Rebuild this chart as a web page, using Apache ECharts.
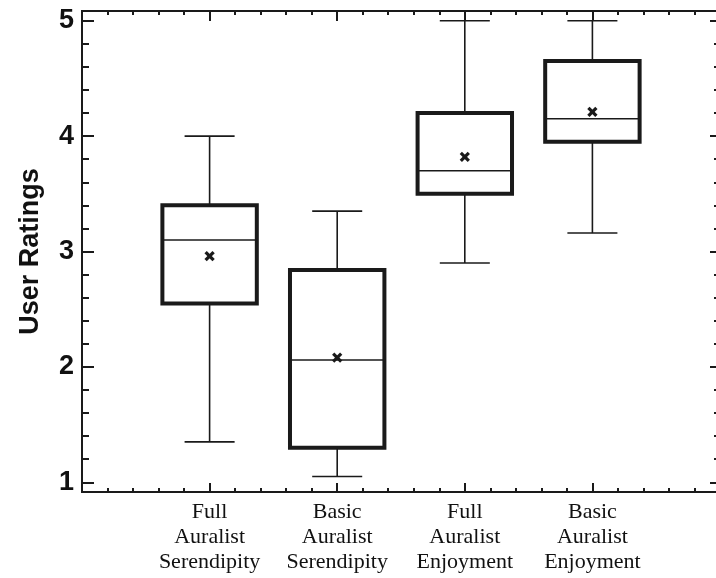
<!DOCTYPE html>
<html>
<head>
<meta charset="utf-8">
<script src="https://cdn.jsdelivr.net/npm/echarts@6/dist/echarts.min.js"></script>
<style>
html,body{margin:0;padding:0;background:#fff;}
#chart{width:716px;height:578px;}
</style>
</head>
<body>
<div id="chart"></div>
<script>
// ---- data ----
var categories = ['Full\nAuralist\nSerendipity', 'Basic\nAuralist\nSerendipity', 'Full\nAuralist\nEnjoyment', 'Basic\nAuralist\nEnjoyment'];
var positions = [1, 2, 3, 4];
var whiskerLow = [1.35, 1.05, 2.90, 3.16];
var q1 = [2.55, 1.30, 3.50, 3.95];
var median = [3.10, 2.06, 3.70, 4.15];
var q3 = [3.40, 2.84, 4.20, 4.65];
var whiskerHigh = [4.00, 3.35, 5.00, 5.00];
var means = [2.96, 2.08, 3.82, 4.21];
var yMajorTicks = [1, 2, 3, 4, 5];
var yMinorTicks = [1.2, 1.4, 1.6, 1.8, 2.2, 2.4, 2.6, 2.8, 3.2, 3.4, 3.6, 3.8, 4.2, 4.4, 4.6, 4.8];
var yMin = 0.916, yMax = 5.084;
var xMin = 0, xMax = 5;

var ink = '#1a1a1a';
var data = positions.map(function (p, i) {
  return [p, whiskerLow[i], q1[i], median[i], q3[i], whiskerHigh[i], means[i]];
});

function renderItem(params, api) {
  var x = api.value(0);
  var boxHalf = 0.37, capHalf = 0.196;
  var pLow = api.coord([x, api.value(1)]);
  var pQ1 = api.coord([x, api.value(2)]);
  var pMed = api.coord([x, api.value(3)]);
  var pQ3 = api.coord([x, api.value(4)]);
  var pHigh = api.coord([x, api.value(5)]);
  var pMean = api.coord([x, api.value(6)]);
  var bl = api.coord([x - boxHalf, api.value(2)])[0];
  var br = api.coord([x + boxHalf, api.value(2)])[0];
  var cl = api.coord([x - capHalf, api.value(2)])[0];
  var cr = api.coord([x + capHalf, api.value(2)])[0];
  var thin = {stroke: ink, lineWidth: 1.6, fill: null};
  var m = 4;
  return {
    type: 'group',
    children: [
      {type: 'line', shape: {x1: pHigh[0], y1: pHigh[1], x2: pQ3[0], y2: pQ3[1]}, style: thin},
      {type: 'line', shape: {x1: pLow[0], y1: pLow[1], x2: pQ1[0], y2: pQ1[1]}, style: thin},
      {type: 'line', shape: {x1: cl, y1: pHigh[1], x2: cr, y2: pHigh[1]}, style: thin},
      {type: 'line', shape: {x1: cl, y1: pLow[1], x2: cr, y2: pLow[1]}, style: thin},
      {type: 'rect', shape: {x: bl, y: pQ3[1], width: br - bl, height: pQ1[1] - pQ3[1]},
        style: {stroke: ink, lineWidth: 4, fill: '#fff'}},
      {type: 'line', shape: {x1: bl, y1: pMed[1], x2: br, y2: pMed[1]}, style: thin},
      {type: 'line', shape: {x1: pMean[0] - m, y1: pMean[1] - m, x2: pMean[0] + m, y2: pMean[1] + m},
        style: {stroke: ink, lineWidth: 3.2}},
      {type: 'line', shape: {x1: pMean[0] - m, y1: pMean[1] + m, x2: pMean[0] + m, y2: pMean[1] - m},
        style: {stroke: ink, lineWidth: 3.2}}
    ]
  };
}

var axisLine = {show: true, lineStyle: {color: ink, width: 2}};
function yAxisDef(position, ticks, len, showLabel, extra) {
  var a = {
    type: 'value', position: position, min: yMin, max: yMax,
    axisLine: axisLine,
    splitLine: {show: false},
    axisTick: {show: true, inside: true, length: len, customValues: ticks, lineStyle: {color: ink, width: 2}},
    axisLabel: showLabel ? {
      show: true, customValues: yMajorTicks, margin: 8,
      fontFamily: 'Liberation Sans', fontWeight: 'bold', fontSize: 27, color: '#111',
      formatter: function (v) { return String(Math.round(v)); }
    } : {show: false}
  };
  for (var k in extra) a[k] = extra[k];
  return a;
}

var chart = echarts.init(document.getElementById('chart'), null, {renderer: 'canvas'});
chart.setOption({
  animation: false,
  backgroundColor: '#fff',
  grid: {left: 82, top: 11, width: 638, height: 481, outerBoundsMode: 'none', containLabel: false},
  xAxis: [
    {
      type: 'value', position: 'bottom', min: xMin, max: xMax, interval: 1,
      axisLine: axisLine, splitLine: {show: false},
      axisTick: {show: true, inside: true, length: 9, lineStyle: {color: ink, width: 2}},
      minorTick: {show: true, splitNumber: 5, length: 4, lineStyle: {color: ink, width: 2}},
      axisLabel: {
        show: true, margin: 8, fontFamily: 'Liberation Serif', fontSize: 22, lineHeight: 25, color: '#111',
        formatter: function (v) { var i = positions.indexOf(v); return i >= 0 ? categories[i] : ''; }
      }
    },
    {
      type: 'value', position: 'top', min: xMin, max: xMax, interval: 1,
      axisLine: axisLine, splitLine: {show: false},
      axisTick: {show: true, inside: true, length: 10, lineStyle: {color: ink, width: 2}},
      minorTick: {show: true, splitNumber: 5, length: 4, lineStyle: {color: ink, width: 2}},
      axisLabel: {show: false}
    }
  ],
  yAxis: [
    yAxisDef('left', yMajorTicks, 12, true, {
      name: 'User Ratings', nameLocation: 'middle', nameRotate: 90, nameGap: 38,
      nameTextStyle: {fontFamily: 'Liberation Sans', fontWeight: 'bold', fontSize: 27, color: '#111'}
    }),
    yAxisDef('left', yMinorTicks, 7, false, {}),
    yAxisDef('right', yMajorTicks, 10, false, {}),
    yAxisDef('right', yMinorTicks, 6, false, {})
  ],
  series: [{
    type: 'custom',
    xAxisIndex: 0, yAxisIndex: 0,
    renderItem: renderItem,
    encode: {x: 0, y: [1, 2, 3, 4, 5, 6]},
    data: data,
    clip: false
  }]
});
</script>
</body>
</html>
